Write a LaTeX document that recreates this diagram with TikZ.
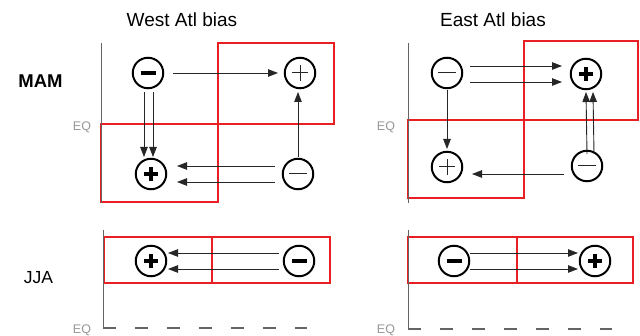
\documentclass[tikz,border=0pt]{standalone}
\usepackage{fontspec}
\setmainfont{Liberation Sans}
\usetikzlibrary{arrows.meta,calc}
\definecolor{boxred}{RGB}{232,32,36}
\definecolor{axisgray}{RGB}{100,100,100}
\definecolor{eqgray}{RGB}{150,150,150}
\tikzset{
  circ/.style={circle,draw=black,line width=2pt,minimum size=30.5pt,inner sep=0pt},
  bminus/.style={circ,path picture={\draw[line width=3.8pt]
      ([xshift=-7.5pt]path picture bounding box.center) -- ([xshift=7.5pt]path picture bounding box.center);}},
  bplus/.style={circ,path picture={\draw[line width=3.8pt]
      ([xshift=-7pt]path picture bounding box.center) -- ([xshift=7pt]path picture bounding box.center)
      ([yshift=-7pt]path picture bounding box.center) -- ([yshift=7pt]path picture bounding box.center);}},
  tminus/.style={circ,path picture={\draw[line width=1pt,black!85]
      ([xshift=-9pt]path picture bounding box.center) -- ([xshift=9pt]path picture bounding box.center);}},
  tplus/.style={circ,path picture={\draw[line width=1pt,black!85]
      ([xshift=-8pt]path picture bounding box.center) -- ([xshift=8pt]path picture bounding box.center)
      ([yshift=-8pt]path picture bounding box.center) -- ([yshift=8pt]path picture bounding box.center);}},
  arr/.style={line width=0.9pt,black!85,-{Triangle[length=10pt,width=7.5pt]}},
  redbox/.style={draw=boxred,line width=1.5pt},
  axisline/.style={draw=axisgray,line width=1pt},
  dashline/.style={draw=axisgray,line width=1.2pt,dash pattern=on 13pt off 19pt},
  eqlab/.style={text=eqgray,font=\fontsize{12.5}{14}\selectfont,anchor=base,inner sep=0pt},
  title/.style={font=\fontsize{19}{22}\selectfont,anchor=base,inner sep=0pt},
  rowlab/.style={font=\fontsize{18.5}{22}\selectfont,anchor=base,inner sep=0pt}
}
\begin{document}
\begin{tikzpicture}[x=1pt,y=-1pt]
\useasboundingbox (0,0) rectangle (640,336);
% titles and row labels
\node[title] (tw) at (182,27) {West Atl bias};
\node[title] (te) at (493,27) {East Atl bias};
\node[rowlab,font=\bfseries\fontsize{18.5}{22}\selectfont] (mam) at (40.5,88) {MAM};
\node[rowlab,font=\fontsize{17.5}{22}\selectfont] (jja) at (38.5,284) {JJA};
% ---------- West MAM ----------
\draw[redbox] (218,43) rectangle (334,124);
\draw[redbox] (101,124) rectangle (218,202);
\draw[axisline] (101,43) -- (101,203);
\node[eqlab] (eq1) at (82,130.5) {EQ};
\node[bminus] (wtl) at (148,73) {};
\node[tplus]  (wtr) at (300,73) {};
\node[bplus]  (wbl) at (151,174) {};
\node[tminus] (wbr) at (298,174) {};
\draw[arr] ($(wtl)+(25,0)$) -- ($(wtr)+(-22,0)$);
\draw[arr] ($(wtl)+(-4,19)$) -- ($(wbl)+(-7,-17)$);
\draw[arr] ($(wtl)+(5,19)$) -- ($(wbl)+(2,-17)$);
\draw[arr] ($(wbr)+(0,-17)$) -- ($(wtr)+(-2,19)$);
\draw[arr] ($(wbr)+(-23,-8)$) -- ($(wbl)+(26,-8)$);
\draw[arr] ($(wbr)+(-23,8)$) -- ($(wbl)+(26,8)$);
% ---------- East MAM ----------
\draw[redbox] (524,41) rectangle (638,120);
\draw[redbox] (408,120) rectangle (524,198);
\draw[axisline] (408,43) -- (408,203);
\node[eqlab] (eq2) at (386,130.5) {EQ};
\node[tminus] (etl) at (447,73) {};
\node[bplus]  (etr) at (586,74) {};
\node[tplus]  (ebl) at (447,167) {};
\node[tminus] (ebr) at (587,166) {};
\draw[arr] ($(etl)+(23,-7)$) -- ($(etr)+(-24,-8)$);
\draw[arr] ($(etl)+(23,9)$) -- ($(etr)+(-24,8)$);
\draw[arr] ($(etl)+(0,17)$) -- ($(ebl)+(0,-18)$);
\draw[arr] ($(ebr)+(-23,8)$) -- ($(ebl)+(25,7)$);
\draw[arr] ($(ebr)+(0,-12)$) -- ($(etr)+(0,18)$);
\draw[arr] ($(ebr)+(7,-12)$) -- ($(etr)+(7,18)$);
% ---------- West JJA ----------
\draw[redbox] (104,237) rectangle (212,283);
\draw[redbox] (212,237) rectangle (330,283);
\draw[axisline] (103,230) -- (103,328);
\draw[dashline] (103,328) -- (307,328);
\node[eqlab] (eq3) at (82,334) {EQ};
\node[bplus]  (jwp) at (151,261) {};
\node[bminus] (jwm) at (299,261) {};
\draw[arr] ($(jwm)+(-20,-8)$) -- ($(jwp)+(17,-8)$);
\draw[arr] ($(jwm)+(-20,8)$) -- ($(jwp)+(17,8)$);
% ---------- East JJA ----------
\draw[redbox] (408,237) rectangle (517,283);
\draw[redbox] (517,237) rectangle (633,283);
\draw[axisline] (408,230) -- (408,329);
\draw[dashline] (408,329) -- (612,329);
\node[eqlab] (eq4) at (386,334) {EQ};
\node[bminus] (jem) at (454,261) {};
\node[bplus]  (jep) at (595,261) {};
\draw[arr] ($(jem)+(16,-8)$) -- ($(jep)+(-17,-8)$);
\draw[arr] ($(jem)+(16,8)$) -- ($(jep)+(-17,8)$);
\end{tikzpicture}
\end{document}
